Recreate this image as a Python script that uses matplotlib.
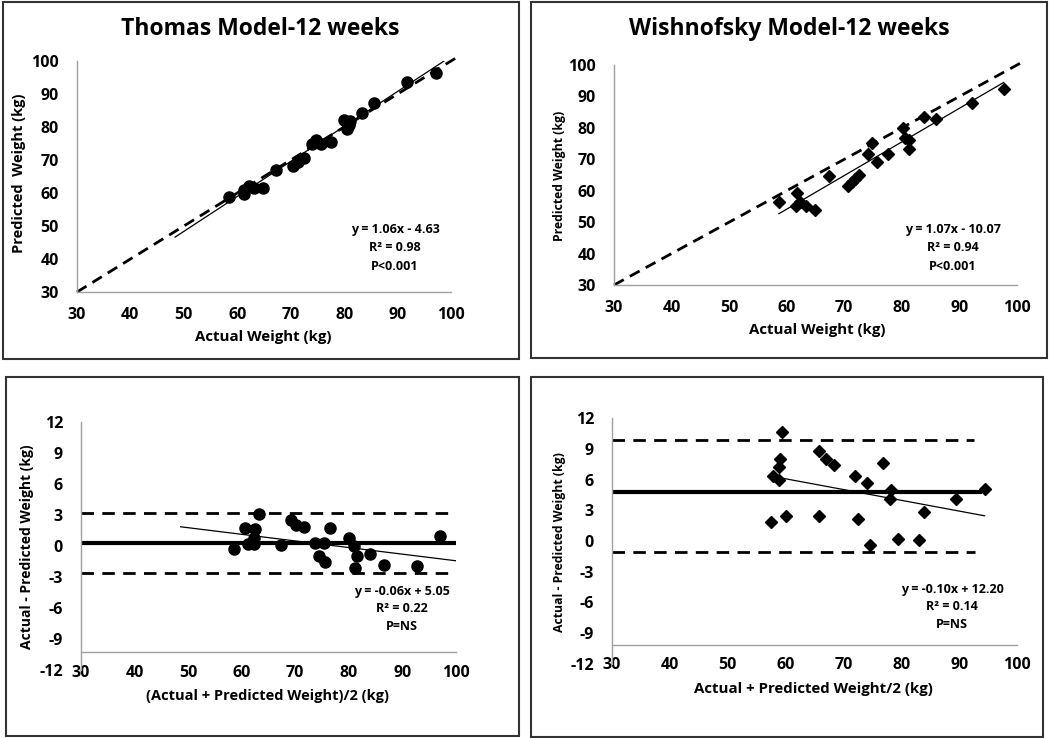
import numpy as np
import matplotlib
matplotlib.use('Agg')
import matplotlib.pyplot as plt
from matplotlib.patches import Rectangle

plt.rcParams['font.family'] = ['Open Sans', 'DejaVu Sans']
plt.rcParams['font.weight'] = 'bold'
plt.rcParams['axes.unicode_minus'] = False

W, H = 1050, 738

# Thomas model: actual vs predicted weight (kg)
thomas_actual = [58.5, 61.3, 61.3, 62.2, 63.2, 64.8, 67.3, 70.4, 71.4, 72.4, 74.0, 74.8,
                 75.7, 77.5, 79.9, 80.6, 80.9, 81.1, 83.3, 85.6, 91.7, 97.2]
thomas_pred = [58.7, 59.6, 61.0, 62.0, 61.4, 61.4, 67.0, 68.2, 69.5, 70.5, 74.8, 76.0,
               74.8, 75.5, 82.1, 79.4, 80.5, 81.9, 84.2, 87.4, 93.7, 96.3]

# Wishnofsky model: actual vs predicted weight (kg)
wish_actual = [58.65, 61.7, 61.55, 62.3, 63.3, 64.9, 67.35, 70.6, 71.3, 71.9, 72.6, 74.2,
               74.9, 75.6, 77.6, 80.2, 80.6, 81.2, 81.3, 83.8, 86.0, 92.2, 97.7]
wish_pred = [56.5, 59.2, 55.1, 56.5, 55.1, 53.9, 64.8, 61.5, 62.9, 63.7, 65.0, 71.7,
             75.1, 69.0, 71.7, 79.9, 76.9, 73.3, 76.1, 83.4, 82.8, 87.8, 92.3]

# Bland-Altman, Thomas: mean vs difference
ba1_mean = [58.6, 60.6, 61.2, 62.3, 62.5, 62.3, 63.3, 67.3, 69.2, 70.2, 71.6, 73.7,
            74.5, 75.4, 75.6, 76.5, 80.1, 80.9, 81.2, 81.5, 84.0, 86.6, 92.7, 97.0]
ba1_diff = [-0.3, 1.7, 0.15, 0.15, 1.6, 0.8, 3.06, 0.1, 2.5, 2.0, 1.8, 0.3,
            -1.0, 0.3, -1.5, 1.7, 0.8, 0.0, -2.1, -1.0, -0.8, -1.8, -1.9, 1.0]
ba1_bias, ba1_upper, ba1_lower = 0.3, 3.16, -2.58

# Bland-Altman, Wishnofsky
ba2_mean = [57.4, 57.9, 58.9, 58.8, 59.0, 59.3, 60.1, 65.7, 65.7, 67.0, 68.4, 72.05,
            72.5, 74.1, 74.6, 76.8, 78.2, 78.1, 79.5, 83.0, 83.9, 89.4, 94.4]
ba2_diff = [1.85, 6.3, 6.0, 7.2, 8.0, 10.65, 2.4, 8.8, 2.4, 8.0, 7.4, 6.3,
            2.1, 5.7, -0.4, 7.6, 5.0, 4.1, 0.2, 0.1, 2.8, 4.1, 5.1]
ba2_bias, ba2_upper, ba2_lower = 4.77, 9.84, -1.04

# trend lines: slope, intercept, x range
trend1 = (1.06, -4.63, [48.35, 98.7])
trend2 = (1.07, -10.07, [58.65, 97.7])
trend3 = (-0.064, 4.97, [48.6, 100])
trend4 = (-0.105, 12.37, [58.9, 94.4])

stats1 = ["y = 1.06x - 4.63", "R² = 0.98", "P<0.001"]
stats2 = ["y = 1.07x - 10.07", "R² = 0.94", "P<0.001"]
stats3 = ["y = -0.06x + 5.05", "R² = 0.22", "P=NS"]
stats4 = ["y = -0.10x + 12.20", "R² = 0.14", "P=NS"]


def box(l, t, r, b):
    return [l / W, 1 - b / H, (r - l) / W, (b - t) / H]


def ftext(x, y, s, **kw):
    fig.text(x / W, 1 - y / H, s, ha='center', va='center', **kw)


def style(ax, xlim, ylim, yticks, axis_at=None):
    ax.set_xlim(xlim)
    ax.set_ylim(ylim)
    ax.set_xticks(np.arange(30, 101, 10))
    ax.set_yticks(yticks)
    for s in ['top', 'right']:
        ax.spines[s].set_visible(False)
    for s in ['left', 'bottom']:
        ax.spines[s].set_color('#a0a0a0')
        ax.spines[s].set_linewidth(1.0)
    if axis_at is not None:
        ax.spines['bottom'].set_position(('data', axis_at))
    ax.tick_params(length=0, labelsize=11.5)
    ax.tick_params(axis='x', pad=11)
    ax.tick_params(axis='y', pad=13)
    for lab in ax.get_xticklabels() + ax.get_yticklabels():
        lab.set_fontweight('bold')
    ax.patch.set_alpha(0)


def trend(ax, t):
    xs = np.array(t[2])
    ax.plot(xs, t[0] * xs + t[1], color='black', lw=0.9, zorder=2)


fig = plt.figure(figsize=(W / 100, H / 100), dpi=100)

# panel frames
for l, t, r, b in [(3, 2, 519, 359), (531, 2, 1047, 358), (6, 377, 519, 736), (531, 377, 1043, 737)]:
    fig.add_artist(Rectangle((l / W, 1 - b / H), (r - l) / W, (b - t) / H, transform=fig.transFigure,
                             fill=False, edgecolor='#333333', lw=1.5))

# top-left
ax1 = fig.add_axes(box(77, 61, 451, 292))
style(ax1, (30, 100), (30, 100), np.arange(30, 101, 10))
ax1.plot([30, 101], [30, 101], color='black', lw=2, dashes=(4, 2.5), clip_on=False, zorder=1)
trend(ax1, trend1)
ax1.plot(thomas_actual, thomas_pred, 'o', color='black', ms=8, zorder=3, clip_on=False)
ftext(260, 29, 'Thomas Model-12 weeks', fontsize=16.5, fontweight='bold')
ftext(263, 337, 'Actual Weight (kg)', fontsize=10.8, fontweight='bold')
ftext(19, 173, 'Predicted  Weight (kg)', fontsize=10.5, fontweight='bold', rotation=90)
for i, s in enumerate(stats1):
    ftext(395, 229 + 18.5 * i, s, fontsize=9, fontweight='bold')

# top-right
ax2 = fig.add_axes(box(614, 65, 1017, 285))
style(ax2, (30, 100), (30, 100), np.arange(30, 101, 10))
ax2.plot([30, 101], [30, 101], color='black', lw=2, dashes=(4, 2.5), clip_on=False, zorder=1)
trend(ax2, trend2)
ax2.plot(wish_actual, wish_pred, 'D', color='black', ms=6, zorder=3, clip_on=False)
ftext(789, 29, 'Wishnofsky Model-12 weeks', fontsize=16.5, fontweight='bold')
ftext(817, 330, 'Actual Weight (kg)', fontsize=10.8, fontweight='bold')
ftext(560, 176, 'Predicted Weight (kg)', fontsize=8.8, fontweight='bold', rotation=90)
for i, s in enumerate(stats2):
    ftext(953, 229 + 18.5 * i, s, fontsize=9, fontweight='bold')

# bottom-left
ax3 = fig.add_axes(box(81, 422, 456, 670))
style(ax3, (30, 100), (-12, 12), np.arange(-12, 13, 3), axis_at=-10.3)
ax3.tick_params(axis='x', pad=9)
ax3.plot([30, 100], [ba1_bias, ba1_bias], color='black', lw=3, zorder=1)
ax3.plot([30, 100], [ba1_upper, ba1_upper], color='black', lw=2, dashes=(4.5, 3), zorder=1)
ax3.plot([30, 100], [ba1_lower, ba1_lower], color='black', lw=2, dashes=(4.5, 3), zorder=1)
trend(ax3, trend3)
ax3.plot(ba1_mean, ba1_diff, 'o', color='black', ms=8, zorder=3)
ftext(268, 696, '(Actual + Predicted Weight)/2 (kg)', fontsize=10.5, fontweight='bold')
ftext(27, 547, 'Actual - Predicted Weight (kg)', fontsize=10, fontweight='bold', rotation=90)
for i, s in enumerate(stats3):
    ftext(402, 591 + 18 * i, s, fontsize=9, fontweight='bold')

# bottom-right
ax4 = fig.add_axes(box(612, 418, 1017, 664))
style(ax4, (30, 100), (-12, 12), np.arange(-12, 13, 3), axis_at=-10.1)
ax4.tick_params(axis='x', pad=9)
ax4.plot([30, 93.6], [ba2_bias, ba2_bias], color='black', lw=3, zorder=1)
ax4.plot([30, 92.5], [ba2_upper, ba2_upper], color='black', lw=2, dashes=(4.5, 3), zorder=1)
ax4.plot([30, 92.8], [ba2_lower, ba2_lower], color='black', lw=2, dashes=(4.5, 3), zorder=1)
trend(ax4, trend4)
ax4.plot(ba2_mean, ba2_diff, 'D', color='black', ms=6, zorder=3)
ftext(813, 689, 'Actual + Predicted Weight/2 (kg)', fontsize=10.8, fontweight='bold')
ftext(559, 542, 'Actual - Predicted Weight (kg)', fontsize=8.8, fontweight='bold', rotation=90)
for i, s in enumerate(stats4):
    ftext(952, 589 + 18 * i, s, fontsize=9, fontweight='bold')

fig.savefig('out.png', dpi=100)
